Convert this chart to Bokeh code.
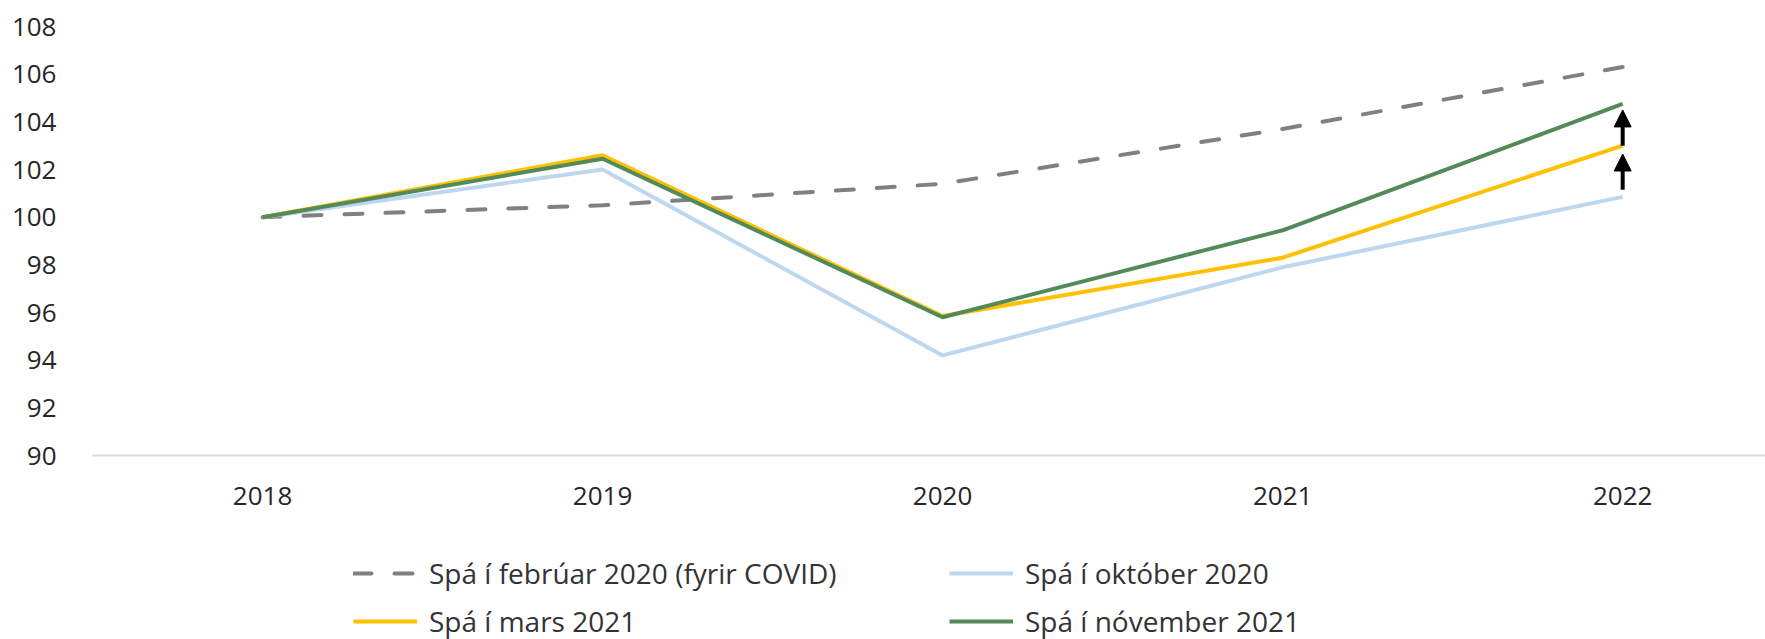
from bokeh.plotting import figure
from bokeh.layouts import column
from bokeh.models import (Range1d, FixedTicker, Legend, LegendItem, Arrow, NormalHead)
from bokeh.embed import file_html
from bokeh.resources import INLINE

years = ["2018", "2019", "2020", "2021", "2022"]
feb2020 = [100.0, 100.5, 101.4, 103.7, 106.3]
okt2020 = [100.0, 102.0, 94.2, 97.9, 100.85]
mar2021 = [100.0, 102.6, 95.85, 98.3, 103.0]
nov2021 = [100.0, 102.45, 95.8, 99.45, 104.75]

names = ["Spá í febrúar 2020 (fyrir COVID)", "Spá í október 2020",
         "Spá í mars 2021", "Spá í nóvember 2021"]

# arrows at 2022 (annotation values)
arrow_x = [4, 4]
arrow_start = [101.15, 103.0]
arrow_end = [102.65, 104.5]

yticks = [90, 92, 94, 96, 98, 100, 102, 104, 106, 108]

FONT = "Open Sans"
xs = list(range(len(years)))

styles = [dict(line_color="#808080", line_width=4, line_dash="18 23", line_cap="round"),
          dict(line_color="#bdd7ee", line_width=4),
          dict(line_color="#ffc000", line_width=4),
          dict(line_color="#528a5a", line_width=4)]
series = [feb2020, okt2020, mar2021, nov2021]

p = figure(width=1765, height=540, output_backend="svg", toolbar_location=None,
           x_range=Range1d(-0.5, 4.42), y_range=Range1d(90, 108),
           min_border_left=92, min_border_right=0, min_border_top=26,
           min_border_bottom=85)
p.outline_line_color = None
p.grid.grid_line_color = None
p.background_fill_color = "white"
p.border_fill_color = "white"

for s, st in zip(series, styles):
    p.line(xs, s, **st)

for xa, s, e in zip(arrow_x, arrow_start, arrow_end):
    p.add_layout(Arrow(x_start=xa, y_start=s, x_end=xa, y_end=e,
                       line_color="black", line_width=4,
                       end=NormalHead(size=17, fill_color="black", line_color="black",
                                      line_width=1)))

p.xaxis.ticker = FixedTicker(ticks=xs)
p.xaxis.major_label_overrides = {i: y for i, y in enumerate(years)}
p.xaxis.axis_line_color = "#d9d9d9"
p.xaxis.axis_line_width = 2
p.xaxis.major_tick_line_color = None
p.xaxis.minor_tick_line_color = None
p.xaxis.major_tick_out = 0
p.xaxis.major_label_standoff = 31
p.xaxis.major_label_text_font = FONT
p.xaxis.major_label_text_font_size = "26px"
p.xaxis.major_label_text_color = "#262626"

p.yaxis.ticker = FixedTicker(ticks=yticks)
p.yaxis.axis_line_color = None
p.yaxis.major_tick_line_color = None
p.yaxis.minor_tick_line_color = None
p.yaxis.major_tick_out = 0
p.yaxis.major_label_standoff = 36
p.yaxis.major_label_text_font = FONT
p.yaxis.major_label_text_font_size = "26px"
p.yaxis.major_label_text_color = "#262626"

# legend-only strip below the chart
lg = figure(width=1765, height=99, output_backend="svg", toolbar_location=None,
            x_axis_type=None, y_axis_type=None, min_border=0,
            x_range=Range1d(0, 1), y_range=Range1d(0, 1))
lg.outline_line_color = None
lg.background_fill_color = "white"
lg.border_fill_color = "white"
lrs = [lg.line(xs, s, **st) for s, st in zip(series, styles)]

# column-wise fill: col 1 = feb, mars ; col 2 = okt, nov  -> rows read feb|okt, mars|nov
order = [0, 2, 1, 3]
legend = Legend(items=[LegendItem(label=names[i], renderers=[lrs[i]]) for i in order],
                ncols=2, location=(261, -2), padding=0, spacing=8, margin=0,
                glyph_width=64, glyph_height=40, label_height=40, label_width=512,
                label_standoff=12, label_text_font=FONT, label_text_font_size="28px",
                label_text_color="#333333", border_line_color=None,
                background_fill_alpha=0)
lg.add_layout(legend, "center")

open("out.html", "w").write(file_html(column(p, lg, spacing=0), INLINE))
